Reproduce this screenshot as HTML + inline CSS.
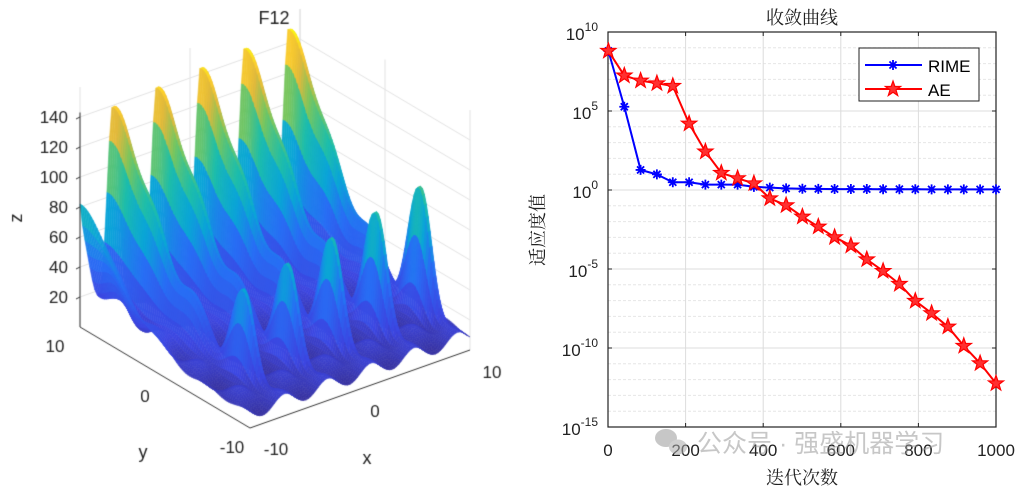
<!DOCTYPE html>
<html><head><meta charset="utf-8">
<style>
html,body{margin:0;padding:0;background:#fff;width:1021px;height:489px;overflow:hidden;font-family:"Liberation Sans","Noto Sans CJK SC",sans-serif}
#left{position:absolute;left:0;top:0}
#right{position:absolute;left:0;top:0}
</style></head><body>
<canvas id="left" width="520" height="489"></canvas>
<svg id="right" width="1021" height="489" xmlns="http://www.w3.org/2000/svg"></svg>
<script>
// ---------- Convergence chart data ----------
const iterations = [1,42,84,126,167,209,251,292,334,376,417,459,501,542,584,626,667,709,751,792,834,876,917,959,1000];
const rimeLog = [8.8,5.27,1.27,0.99,0.49,0.49,0.34,0.34,0.34,0.2,0.15,0.1,0.08,0.07,0.06,0.06,0.06,0.05,0.05,0.05,0.04,0.04,0.04,0.04,0.04];
const aeLog = [8.8,7.24,6.92,6.75,6.58,4.2,2.43,1.08,0.74,0.42,-0.53,-0.97,-1.69,-2.32,-2.99,-3.52,-4.39,-5.13,-5.95,-7.02,-7.8,-8.65,-9.87,-10.97,-12.24];
const xTicks = [0,200,400,600,800,1000];
const yTicks = [10,5,0,-5,-10,-15];

const NS="http://www.w3.org/2000/svg";
const svg=document.getElementById('right');
function mk(tag,attrs,parent){const e=document.createElementNS(NS,tag);for(const k in attrs)e.setAttribute(k,attrs[k]);(parent||svg).appendChild(e);return e;}
const L=608,R=996,T=32,B=427;
const xs=v=>L+(v/1000)*(R-L);
const ys=d=>T+(10-d)/25*(B-T);

for(let d=-15;d<=10;d++){
  const y=ys(d);
  if(d%5===0){const g=mk('line',{x1:L,x2:R,y1:y,y2:y,stroke:'#dcdcdc','stroke-width':1});}
  else {const g=mk('line',{x1:L,x2:R,y1:y,y2:y,stroke:'#e6e6e6','stroke-width':1,'stroke-dasharray':'3,2'});}
}
xTicks.forEach(v=>{const x=xs(v);
  const g=mk('line',{x1:x,x2:x,y1:T,y2:B,stroke:'#dcdcdc','stroke-width':1});
  const t=mk('text',{x:x,y:B+29,'font-size':17,'text-anchor':'middle',fill:'#222'});t.textContent=v;
  
  mk('line',{x1:x,x2:x,y1:B,y2:B-4,stroke:'#222'});mk('line',{x1:x,x2:x,y1:T,y2:T+4,stroke:'#222'});
});
yTicks.forEach(d=>{const y=ys(d);
  const t=mk('text',{x:L-10,y:y+8,'font-size':17,'text-anchor':'end',fill:'#222'});
  
  const b=document.createElementNS(NS,'tspan');b.textContent='10';t.appendChild(b);
  const s=document.createElementNS(NS,'tspan');s.setAttribute('dy','-9');s.setAttribute('font-size','12');s.textContent=String(d);t.appendChild(s);
  mk('line',{x1:L,x2:L+4,y1:y,y2:y,stroke:'#222'});mk('line',{x1:R,x2:R-4,y1:y,y2:y,stroke:'#222'});
});
const box=mk('rect',{x:L,y:T,width:R-L,height:B-T,fill:'none',stroke:'#222','stroke-width':1.2});


function asterisk(x,y,c,p){const r=5;let d='';for(let i=0;i<4;i++){const a=i*Math.PI/4;d+=`M${x-r*Math.cos(a)},${y-r*Math.sin(a)}L${x+r*Math.cos(a)},${y+r*Math.sin(a)}`;}
  return mk('path',{d:d,stroke:c,'stroke-width':1.8,fill:'none'},p);}
function star(x,y,c,p){let pts=[];for(let i=0;i<10;i++){const r=i%2?3.2:8;const a=-Math.PI/2+i*Math.PI/5;pts.push((x+r*Math.cos(a)).toFixed(1)+','+(y+r*Math.sin(a)).toFixed(1));}
  return mk('polygon',{points:pts.join(' '),fill:'#ff3030',stroke:c,'stroke-width':1.2},p);}

function series(vals,color,marker,name){
  const g=mk('g',{});
  const pts=vals.map((v,i)=>xs(iterations[i]).toFixed(1)+','+ys(v).toFixed(1)).join(' ');
  mk('polyline',{points:pts,fill:'none',stroke:color,'stroke-width':2},g);
  vals.forEach((v,i)=>{const m=marker(xs(iterations[i]),ys(v),color,g);});
}
series(rimeLog,'#0000ff',asterisk,'rime-series');
series(aeLog,'#ff0000',star,'ae-series');

const lg=mk('g',{});
mk('rect',{x:859,y:48,width:120,height:53,fill:'#fff',stroke:'#222','stroke-width':1},lg);
mk('line',{x1:865,x2:922,y1:65,y2:65,stroke:'#0000ff','stroke-width':2},lg);asterisk(893,65,'#0000ff',lg);
mk('line',{x1:865,x2:922,y1:89,y2:89,stroke:'#ff0000','stroke-width':2},lg);star(893,89,'#ff0000',lg);
let t1=mk('text',{x:928,y:72,'font-size':17,fill:'#000'},lg);t1.textContent='RIME';
let t2=mk('text',{x:928,y:96,'font-size':17,fill:'#000'},lg);t2.textContent='AE';

let tt=mk('text',{x:802,y:24,'font-size':18,'text-anchor':'middle',fill:'#222','font-family':'"Liberation Serif","Noto Serif CJK SC",serif'});tt.textContent='收敛曲线';
let xl=mk('text',{x:802,y:484,'font-size':18,'text-anchor':'middle',fill:'#222','font-family':'"Liberation Serif","Noto Serif CJK SC",serif'});xl.textContent='迭代次数';
let yl=mk('text',{x:0,y:0,'font-size':18,'text-anchor':'middle',fill:'#222',transform:'translate(544,230) rotate(-90)','font-family':'"Liberation Serif","Noto Serif CJK SC",serif'});yl.textContent='适应度值';
const wm=mk('g',{opacity:0.55});
mk('ellipse',{cx:666,cy:438,rx:11,ry:9,fill:'#999'},wm);mk('ellipse',{cx:678,cy:447,rx:9,ry:7.5,fill:'#aaa'},wm);
let wt=mk('text',{x:697,y:452,'font-size':25,fill:'#999'},wm);wt.textContent='公众号 · 强盛机器学习';

// ---------- 3D surface ----------
const cv=document.getElementById('left');const ctx=cv.getContext('2d');
const O=[250,428],AX=[220,-78],AY=[-170,-101],ZS=1.5;
function P(x,y,z){const a=(x+10)/20,b=(y+10)/20;return [O[0]+a*AX[0]+b*AY[0],O[1]+a*AX[1]+b*AY[1]-z*ZS];}
function f(x,y){
  const c=(1+Math.cos(Math.PI*(x-1)/2))/2;
  const g=Math.pow(c,3), g2=Math.pow(c,8);
  const h=130*Math.exp(-Math.pow((y-10)/5.5,2))+25*Math.exp(-Math.pow((y-2)/5,2));
  const front=72*Math.exp(-Math.pow((y+5.5)/1.8,2))*(0.7+0.5*(x+10)/20);
  const edge=55*Math.exp(-Math.pow((x+10)/1.2,2))*Math.exp(-Math.pow((y-10)/6,2));
  return g*h*(0.95+0.1*(x+10)/20)+g2*front+edge+10+5*Math.sin(x*1.6)*Math.cos(y*1.3)+5*Math.exp(-Math.pow((y-1)/2,2));
}
const stops=[[0,[53,42,135]],[0.12,[60,70,225]],[0.3,[40,110,245]],[0.45,[10,165,215]],[0.58,[30,190,170]],[0.72,[120,198,95]],[0.84,[225,185,60]],[0.93,[252,205,45]],[1,[249,251,14]]];
function col(t){t=Math.max(0,Math.min(1,t));for(let i=1;i<stops.length;i++){if(t<=stops[i][0]){const[a,c0]=stops[i-1],[b,c1]=stops[i];const u=(t-a)/(b-a);return `rgb(${c0.map((v,k)=>Math.round(v+(c1[k]-v)*u)).join(',')})`;}}return 'rgb(249,251,14)';}
ctx.lineWidth=1;
function ln(a,b,c){ctx.strokeStyle=c||'#e2e2e2';ctx.beginPath();ctx.moveTo(a[0],a[1]);ctx.lineTo(b[0],b[1]);ctx.stroke();}
for(let z=20;z<=140;z+=20){ln(P(-10,10,z),P(10,10,z));ln(P(10,10,z),P(10,-10,z));}
[-10,0,10].forEach(v=>{ln(P(v,10,0),P(v,10,160));ln(P(10,v,0),P(10,v,160));});
const N=90;
const quads=[];
for(let i=0;i<N;i++)for(let j=0;j<N;j++){
  const x0=-10+20*i/N,x1=-10+20*(i+1)/N,y0=-10+20*j/N,y1=-10+20*(j+1)/N;
  quads.push([x0,x1,y0,y1,(x0+x1)+(y0+y1)]);
}
quads.sort((a,b)=>b[4]-a[4]);
quads.forEach(q=>{const[x0,x1,y0,y1]=q;
  const zs=[f(x0,y0),f(x1,y0),f(x1,y1),f(x0,y1)];const zm=(zs[0]+zs[1]+zs[2]+zs[3])/4;
  const ps=[P(x0,y0,zs[0]),P(x1,y0,zs[1]),P(x1,y1,zs[2]),P(x0,y1,zs[3])];
  ctx.fillStyle=col(zm/150);ctx.strokeStyle=ctx.fillStyle;ctx.lineWidth=0.6;
  ctx.beginPath();ctx.moveTo(ps[0][0],ps[0][1]);for(let k=1;k<4;k++)ctx.lineTo(ps[k][0],ps[k][1]);ctx.closePath();ctx.fill();ctx.stroke();
});
ctx.lineWidth=1;
ln(P(-10,10,0),P(-10,10,143),'#333');ln(P(-10,10,0),P(-10,-10,0),'#333');ln(P(-10,-10,0),P(10,-10,0),'#333');
ctx.fillStyle='#222';ctx.font='17px "Liberation Sans", sans-serif';ctx.textAlign='right';
for(let z=20;z<=140;z+=20){const p=P(-10,10,z);ln(p,[p[0]-4,p[1]+2],'#333');ctx.fillText(String(z),p[0]-12,p[1]+6);}
ctx.textAlign='center';
ctx.fillText('10',55,352);ctx.fillText('0',145,402);ctx.fillText('-10',232,453);
ctx.fillText('-10',276,455);ctx.fillText('0',375,417);ctx.fillText('10',492,378);
ctx.font='18px "Liberation Sans", sans-serif';
ctx.fillText('y',143,458);ctx.fillText('x',367,464);ctx.fillText('F12',274,24);
ctx.save();ctx.translate(22,218);ctx.rotate(-Math.PI/2);ctx.fillText('z',0,0);ctx.restore();
</script>
</body></html>
